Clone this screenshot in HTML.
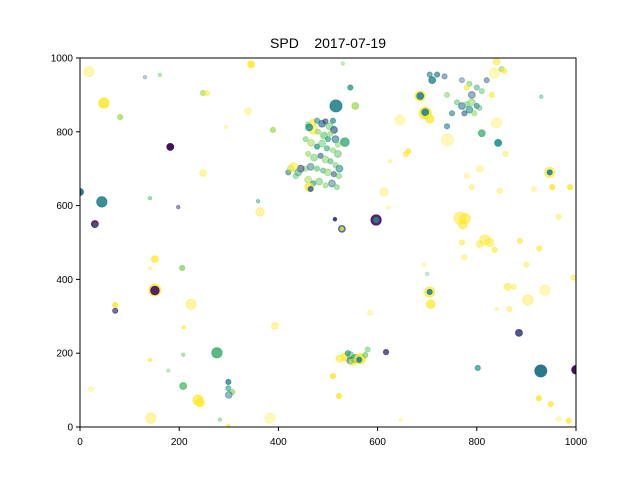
<!DOCTYPE html>
<html><head><meta charset="utf-8"><style>
html,body{margin:0;padding:0;background:#fff;}
svg{display:block;font-family:"Liberation Sans","DejaVu Sans",sans-serif;}
</style></head><body>
<svg id="chart" width="640" height="480">
<rect width="640" height="480" fill="#fff"/>
<text x="328" y="48" text-anchor="middle" font-size="14" fill="#000" style="white-space:pre">SPD&#160;&#160;&#160;&#160;2017-07-19</text>
<g id="plot"></g>
<rect x="80" y="58" width="496" height="369" fill="none" stroke="#000" stroke-width="1"/>
<g id="xaxis"></g>
<g id="yaxis"></g>
</svg>
<script>
const xTicks=[0,200,400,600,800,1000];
const yTicks=[0,200,400,600,800,1000];
// data points: x, y, marker radius, color value (0..1), alpha
const xs=[], ys=[], rs=[], cs=[], as=[];
const pts=[
[18,963,6,1,.35],[48,878,6,1,.8],[81,840,3,0.85,.7],[0,637,4,0.4,1],[44,610,6,0.45,.9],[30,550,4,0,.8],[31,548,2,0.3,.9],[182,759,4,0.05,1],[198,596,2,0.2,.5],[141,620,2,0.7,.5],[131,948,2,0.3,.3],[161,954,2,0.75,.4],[248,905,3,0.85,.6],[256,905,3,1,.5],[345,983,4,1,.8],[339,856,4,1,.3],[294,813,2,1,.3],[248,688,4,1,.4],[363,583,5,1,.4],[389,805,3,0.85,.7],[359,612,2,0.6,.5],[151,455,4,1,.7],[141,430,2,1,.3],[206,431,3,0.8,.7],[151,371,7,1,.7],[151,370,5,0.05,.9],[71,331,3,1,.8],[71,315,3,0.15,.7],[224,333,6,1,.4],[393,274,4,1,.4],[209,270,2,1,.6],[276,201,6,0.65,.9],[208,196,2,0.7,.4],[178,153,2,0.7,.3],[208,111,4,0.7,.8],[143,24,6,1,.4],[22,103,3,1,.3],[141,182,2,1,.6],[238,73,6,1,.7],[242,66,5,1,.7],[299,122,3,0.45,.8],[299,105,3,0.55,.6],[307,95,3,0.8,.6],[300,87,4,0.4,.5],[282,20,2,0.7,.4],[299,2,2,1,.8],[383,24,6,1,.3],[545,920,3,0.55,.8],[555,870,4,0.85,.7],[534,772,5,0.6,.8],[597,561,6,0.05,.9],[597,561,3,0.4,1],[528,537,4,0.2,.7],[528,537,2,0.9,1],[514,563,2,0.2,1],[530,985,2,0.8,.4],[613,637,5,1,.3],[622,595,2,1,.3],[625,720,2,1,.3],[662,747,3,1,.7],[657,740,3,1,.6],[645,832,6,1,.3],[585,310,3,1,.3],[510,138,3,1,.8],[522,84,3,1,.8],[617,203,3,0.15,.8],[647,20,2,1,.3],[686,897,6,1,.7],[686,897,4,0.45,.9],[696,851,7,1,.8],[696,853,4,0.45,.9],[705,835,5,1,.7],[741,778,7,1,.3],[705,366,6,1,.7],[705,366,3,0.45,.9],[707,333,5,1,.7],[700,415,2,0.7,.3],[693,440,2,1,.3],[766,566,7,1,.5],[776,565,6,1,.6],[772,548,5,1,.6],[770,500,3,1,.5],[775,460,3,1,.4],[816,507,6,1,.5],[826,500,5,1,.5],[806,496,4,1,.5],[836,480,3,1,.6],[887,504,3,1,.6],[836,959,6,1,.3],[840,824,6,1,.3],[843,770,4,0.5,.9],[810,796,4,0.65,.8],[846,640,3,1,.4],[806,700,4,1,.3],[790,650,3,1,.4],[780,680,3,1,.3],[858,740,3,1,.4],[947,690,6,1,.6],[947,690,3,0.45,.9],[952,650,3,1,.8],[988,650,3,1,.8],[915,645,3,1,.3],[903,344,6,1,.4],[937,371,6,1,.3],[885,255,4,0.2,.9],[929,152,7,0.4,1],[925,78,3,1,.8],[949,62,3,1,.7],[1000,155,5,0.05,1],[802,160,3,0.5,.7],[862,380,4,1,.5],[875,380,3,1,.4],[866,320,3,1,.4],[965,21,3,1,.3],[985,17,3,1,.7],[926,484,3,1,.6],[995,405,3,1,.5],[965,570,3,1,.4],[840,320,2,1,.3],[900,440,3,1,.4],[930,895,2,0.6,.4],
[460,820,3,0.75,.5],[470,825,4,1,.6],[478,830,3,0.5,.6],[488,822,4,0.4,.7],[495,828,3,0.2,.6],[503,815,4,0.75,.5],[510,830,3,0.5,.7],[512,805,4,0.3,.7],[505,795,3,0.8,.5],[470,805,5,1,.6],[462,812,4,0.5,.8],[480,800,3,0.8,.5],[492,790,4,0.75,.6],[500,780,3,0.5,.6],[515,780,4,0.4,.6],[520,765,3,0.8,.5],[455,780,3,0.75,.5],[466,770,4,0.85,.5],[478,760,3,0.5,.7],[488,768,4,0.75,.5],[498,755,3,0.6,.6],[510,750,3,0.8,.5],[520,740,4,0.7,.5],[460,740,3,0.8,.5],[472,730,4,0.75,.5],[485,735,3,0.3,.6],[495,725,4,0.8,.5],[505,720,3,0.6,.5],[515,710,3,0.75,.5],[523,700,4,0.5,.6],[455,700,3,0.8,.5],[465,705,4,0.4,.5],[478,700,3,0.75,.6],[490,695,3,0.6,.5],[500,690,4,0.8,.5],[512,685,3,0.3,.6],[522,680,3,0.75,.5],[460,670,4,0.85,.5],[470,660,3,0.5,.6],[482,665,4,0.75,.5],[495,655,3,0.8,.5],[508,660,4,0.4,.5],[518,650,3,0.75,.5],[462,650,5,1,.7],[465,645,3,0.3,.8],[445,700,4,0.2,.6],[420,690,3,0.4,.6],[425,700,4,0.9,.5],[430,705,5,1,.5],[435,680,3,0.75,.5],[440,690,4,0.6,.5],[516,870,7,0.45,.9],
[760,880,3,0.7,.5],[770,870,4,0.4,.6],[780,875,3,0.75,.5],[790,880,4,0.8,.5],[800,870,3,0.4,.6],[785,860,4,0.5,.6],[775,850,3,0.3,.6],[795,850,3,0.8,.5],[805,865,3,0.7,.5],[790,900,4,0.3,.5],[800,920,3,0.6,.5],[810,910,3,0.75,.5],[785,930,3,0.75,.5],[770,940,3,0.3,.4],[740,900,3,0.8,.5],[750,850,3,0.45,.6],[720,955,3,0.45,.7],[735,950,3,0.3,.5],[705,955,3,0.4,.6],[710,940,4,0.45,.8],[740,815,3,0.4,.6],[780,920,3,1,.6],[830,900,3,1,.6],[820,940,3,0.3,.5],[850,970,3,0.8,.5],[840,990,4,1,.5],[855,965,3,1,.6],
[535,190,5,1,.7],[545,195,4,0.75,.6],[555,185,5,0.6,.7],[565,185,6,1,.8],[563,182,3,0.45,.9],[545,180,4,0.45,.6],[575,195,3,0.75,.6],[540,200,3,0.5,.6],[580,210,3,0.75,.5],[550,175,4,1,.5],[523,185,4,1,.6]
];
pts.forEach(p=>{xs.push(p[0]);ys.push(p[1]);rs.push(p[2]);cs.push(p[3]);as.push(p[4]);});

const X0=80,X1=576,Y0=427,Y1=58;
const sx=v=>X0+(v/1000)*(X1-X0);
const sy=v=>Y0-(v/1000)*(Y0-Y1);
const vir=[[68,1,84],[59,82,139],[33,145,140],[94,201,98],[253,231,37]];
function color(t){t=Math.max(0,Math.min(1,t))*4;const i=Math.min(3,Math.floor(t)),f=t-i;
const a=vir[i],b=vir[i+1];return `rgb(${Math.round(a[0]+(b[0]-a[0])*f)},${Math.round(a[1]+(b[1]-a[1])*f)},${Math.round(a[2]+(b[2]-a[2])*f)})`;}
const NS="http://www.w3.org/2000/svg";
const plot=document.getElementById('plot');
const clip=document.createElementNS(NS,'clipPath');clip.setAttribute('id','cp');
const cr=document.createElementNS(NS,'rect');cr.setAttribute('x',X0);cr.setAttribute('y',Y1);cr.setAttribute('width',X1-X0);cr.setAttribute('height',Y0-Y1);
clip.appendChild(cr);plot.appendChild(clip);plot.setAttribute('clip-path','url(#cp)');
for(let i=0;i<xs.length;i++){
 const c=document.createElementNS(NS,'circle');
 c.setAttribute('cx',sx(xs[i]));c.setAttribute('cy',sy(ys[i]));c.setAttribute('r',rs[i]*0.85);
 const col=color(cs[i]);c.setAttribute('fill',col);c.setAttribute('fill-opacity',as[i]);
 c.setAttribute('stroke',col);c.setAttribute('stroke-opacity',as[i]);c.setAttribute('stroke-width',1);
 
 
 plot.appendChild(c);
}
const xa=document.getElementById('xaxis'),ya=document.getElementById('yaxis');
xTicks.forEach(t=>{
 const l=document.createElementNS(NS,'line');const x=sx(t);
 l.setAttribute('x1',x);l.setAttribute('x2',x);l.setAttribute('y1',Y0);l.setAttribute('y2',Y0+4);l.setAttribute('stroke','#000');
 
 
 xa.appendChild(l);
 const tx=document.createElementNS(NS,'text');tx.setAttribute('x',x);tx.setAttribute('y',Y0+18);tx.setAttribute('text-anchor','middle');tx.setAttribute('font-size','10');tx.textContent=t;
 
 
 xa.appendChild(tx);
});
yTicks.forEach(t=>{
 const l=document.createElementNS(NS,'line');const y=sy(t);
 l.setAttribute('x1',X0-4);l.setAttribute('x2',X0);l.setAttribute('y1',y);l.setAttribute('y2',y);l.setAttribute('stroke','#000');
 
 
 ya.appendChild(l);
 const tx=document.createElementNS(NS,'text');tx.setAttribute('x',X0-7);tx.setAttribute('y',y+3.5);tx.setAttribute('text-anchor','end');tx.setAttribute('font-size','10');tx.textContent=t;
 
 
 ya.appendChild(tx);
});
</script>
</body></html>
